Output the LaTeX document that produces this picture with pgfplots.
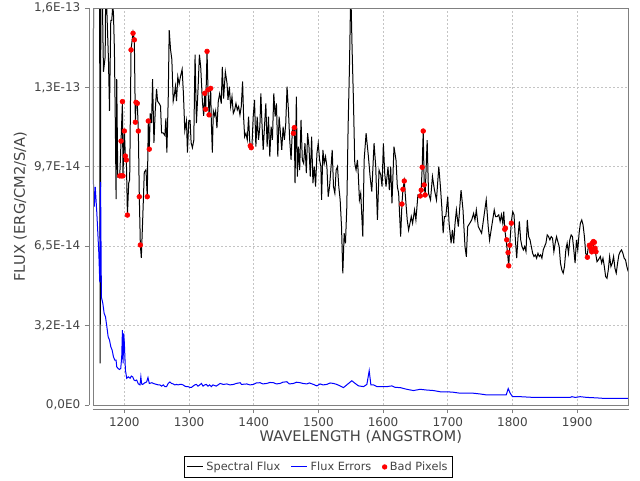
\documentclass[border=0pt]{standalone}
\usepackage{fontspec}
\setmainfont{DejaVu Sans}
\usepackage{pgfplots}
\usepackage{pgfplotstable}
\pgfplotsset{compat=1.18}
\definecolor{axgray}{HTML}{808080}
\definecolor{txtgray}{HTML}{444444}
\definecolor{gridgray}{HTML}{C4C4C4}
\definecolor{errblue}{HTML}{0000FF}
\definecolor{badred}{HTML}{FF0000}

% flux in units of 1e-14 erg/cm2/s/A
\pgfplotstableread{
wl f
1151.6 9.2
1153.0 22
1161.5 22
1162.6 1.7
1164.0 22
1166.7 15.2
1167.7 13.6
1170.3 14.2
1171.3 17.5
1172.9 16.1
1175.4 14.1
1177.0 12.0
1179.0 15.7
1180.5 15.7
1182.0 16.3
1183.1 16.0
1184.6 14.5
1186.2 11.1
1187.2 8.4
1188.2 13.3
1189.8 9.3
1192.9 9.35
1194.9 10.8
1197.0 12.4
1197.8 9.35
1200.0 11.2
1201.6 10.1
1203.1 10.0
1204.7 7.75
1206.7 9.05
1208.2 9.2
1210.3 14.5
1213.4 15.2
1215.4 14.9
1217.0 11.5
1218.0 12.35
1220.0 12.3
1221.6 11.2
1223.1 8.5
1224.7 6.53
1226.2 6.0
1228.3 7.55
1230.8 9.5
1233.4 9.6
1235.4 8.5
1237.0 11.6
1238.5 10.4
1240.0 11.9
1242.0 11.5
1243.6 13.3
1245.7 10.7
1247.7 12.0
1249.8 12.9
1251.3 12.4
1253.9 12.3
1255.9 12.2
1257.5 11.1
1260.0 11.1
1262.6 11.0
1264.2 11.7
1265.7 10.3
1267.8 12.5
1269.3 15.3
1271.4 14.5
1273.4 14.1
1275.5 12.4
1277.5 12.7
1279.0 13.0
1280.6 12.4
1282.6 13.4
1284.7 13.1
1286.7 13.4
1289.3 13.7
1291.3 12.7
1293.4 11.2
1296.0 11.6
1297.5 10.3
1299.6 11.6
1301.6 11.6
1303.2 10.7
1305.2 10.5
1307.3 10.8
1309.3 14.3
1311.4 11.5
1313.9 12.9
1316.0 14.3
1318.0 13.8
1320.6 12.4
1322.6 11.8
1324.2 12.72
1325.7 12.07
1327.8 14.43
1329.3 12.86
1330.9 11.84
1333.4 12.92
1334.4 11.6
1336.0 10.3
1337.5 12.0
1339.6 11.8
1341.1 12.0
1343.1 11.3
1345.2 12.4
1347.3 12.7
1349.8 12.3
1351.4 13.8
1353.4 12.5
1356.1 13.60
1358.7 13.13
1360.2 12.45
1362.3 12.99
1364.3 12.18
1366.4 12.58
1368.4 11.90
1370.5 12.04
1372.5 12.31
1374.6 12.04
1376.6 12.18
1378.7 11.84
1380.7 12.18
1382.8 13.20
1384.3 11.77
1385.9 10.95
1387.9 11.09
1390.0 10.82
1392.0 11.77
1394.1 10.61
1395.6 10.54
1397.1 10.48
1399.2 11.77
1401.2 12.45
1403.3 10.54
1405.3 11.77
1407.4 10.82
1409.5 11.36
1411.0 12.72
1412.5 11.63
1414.6 10.41
1416.6 11.36
1418.7 12.31
1420.7 10.54
1422.8 11.77
1424.8 10.14
1426.9 11.36
1428.9 10.82
1431.0 12.72
1433.1 11.77
1435.1 12.31
1437.2 10.14
1439.2 11.77
1441.3 11.09
1443.3 10.41
1445.4 11.36
1447.4 10.82
1449.5 11.50
1451.5 12.99
1453.6 12.04
1455.6 10.82
1457.7 10.0
1459.7 11.22
1461.3 11.09
1462.8 11.32
1463.8 9.05
1465.9 12.58
1467.4 9.32
1469.0 10.54
1471.0 9.59
1473.1 11.63
1475.1 10.0
1477.2 9.86
1479.2 10.68
1481.3 9.46
1483.3 11.09
1485.4 10.54
1487.4 9.32
1489.5 10.95
1491.5 9.05
1493.6 9.73
1495.6 8.91
1497.7 10.27
1499.7 10.68
1501.8 10.0
1503.8 9.73
1504.9 8.37
1506.9 10.41
1509.0 9.86
1511.0 10.14
1513.1 9.73
1515.1 8.50
1517.2 8.91
1519.2 9.59
1521.3 10.41
1523.3 8.91
1525.4 8.64
1527.4 9.59
1529.5 9.73
1531.5 8.91
1533.6 8.37
1535.7 7.28
1537.7 5.37
1539.8 7.01
1541.8 6.60
1543.9 8.10
1545.9 11.36
1548.0 13.81
1550.0 17.0
1552.1 14.49
1554.1 12.45
1556.2 9.86
1558.2 9.59
1560.3 10.0
1561.3 9.59
1563.4 8.37
1565.4 8.64
1568.6 6.87
1570.7 10.0
1573.7 11.09
1577.3 10.13
1579.9 9.32
1582.5 8.71
1586.0 10.68
1588.6 9.73
1591.2 7.55
1593.7 9.59
1596.3 9.39
1598.4 8.91
1600.4 10.68
1602.5 9.45
1604.5 8.91
1607.6 9.73
1609.6 8.77
1611.7 9.73
1613.7 8.23
1616.8 10.54
1619.9 10.0
1622.0 8.91
1624.0 8.64
1627.1 6.87
1629.1 8.20
1630.7 8.80
1632.7 9.14
1635.3 8.23
1637.3 7.55
1639.4 7.14
1641.5 7.41
1643.5 7.69
1645.6 7.41
1648.6 7.96
1650.7 7.55
1653.8 8.57
1657.4 8.53
1658.9 8.77
1660.4 9.70
1662.0 11.18
1663.5 8.98
1665.0 8.57
1668.1 10.81
1670.2 8.64
1673.3 8.37
1676.3 9.32
1679.4 8.77
1682.5 8.37
1686.1 9.73
1688.6 8.91
1690.7 8.09
1692.8 7.01
1694.8 7.69
1696.9 7.69
1699.9 8.50
1702.0 7.41
1705.1 6.60
1707.1 7.14
1709.2 6.60
1711.2 7.41
1713.3 7.96
1716.3 7.28
1720.5 8.77
1723.5 7.96
1726.6 6.46
1728.7 6.05
1730.7 7.28
1733.8 7.41
1736.9 7.55
1739.9 7.82
1742.0 7.55
1744.1 7.96
1747.1 7.28
1752.3 7.01
1759.4 8.37
1762.5 7.28
1764.6 6.73
1771.8 7.96
1773.8 7.69
1776.3 7.69
1778.8 7.76
1780.9 7.49
1782.9 7.76
1785.0 7.42
1786.5 7.89
1788.1 7.17
1790.1 6.74
1792.2 6.26
1794.2 5.65
1796.3 6.74
1798.3 7.49
1800.4 7.89
1802.4 7.76
1804.5 6.74
1806.5 5.99
1808.6 6.87
1810.6 7.49
1812.7 6.74
1814.7 6.47
1816.8 6.33
1818.8 6.47
1820.9 6.26
1822.9 7.55
1825.0 6.87
1827.1 6.74
1829.1 6.47
1831.2 6.19
1833.2 6.06
1835.3 6.13
1837.3 5.99
1839.4 6.19
1841.4 6.06
1843.5 6.13
1845.5 5.99
1847.6 6.33
1849.6 6.47
1851.7 6.60
1853.7 6.94
1855.8 6.87
1857.8 6.74
1859.9 6.87
1861.9 6.81
1864.0 6.26
1866.0 6.60
1868.1 6.87
1870.1 6.67
1872.2 6.47
1874.2 5.79
1876.3 5.51
1878.4 5.38
1880.4 5.65
1882.5 6.33
1884.5 6.60
1886.6 6.19
1888.6 6.74
1890.7 6.94
1892.7 6.87
1894.8 6.33
1896.8 5.79
1898.9 6.74
1900.9 6.33
1903.0 7.01
1905.0 7.42
1907.1 7.55
1909.1 7.35
1911.2 6.87
1913.2 6.19
1915.3 6.06
1917.3 6.47
1919.8 6.45
1922.5 6.67
1925.5 6.47
1927.6 6.33
1930.7 5.85
1932.7 5.92
1935.8 6.06
1937.9 5.79
1939.9 5.99
1942.0 5.65
1944.0 5.24
1946.1 5.17
1948.1 5.51
1950.2 6.06
1952.2 5.65
1954.3 5.79
1956.3 6.06
1958.4 5.58
1960.4 5.38
1962.5 5.79
1964.5 6.13
1966.6 6.26
1968.6 6.33
1970.7 6.19
1972.7 5.99
1974.8 5.92
1976.8 5.65
1978.9 5.45
}\fluxtable

\pgfplotstableread{
wl f
1152.0 9.2
1153.5 8.1
1155.0 8.9
1157.5 7.8
1160.5 6.2
1162.0 5.0
1163.2 9.1
1164.5 4.4
1166.7 4.15
1168.7 3.74
1170.8 3.60
1172.9 3.20
1174.9 2.79
1177.0 2.65
1179.0 2.38
1181.1 2.24
1183.1 1.97
1185.2 1.83
1187.2 1.83
1188.2 1.56
1190.3 1.49
1192.3 1.45
1194.4 1.49
1195.9 1.97
1197.0 3.06
1198.0 1.70
1199.0 2.92
1200.0 2.52
1201.6 1.43
1203.6 1.09
1206.2 1.15
1208.8 1.09
1210.8 1.18
1212.9 1.15
1214.9 1.02
1217.0 0.99
1219.0 1.02
1221.6 0.86
1224.2 0.82
1225.5 1.15
1226.7 0.86
1228.3 0.84
1231.8 0.91
1234.4 0.94
1236.5 1.12
1238.5 0.88
1242.6 0.91
1244.7 0.88
1247.2 0.86
1249.8 0.84
1252.4 0.82
1254.9 0.82
1257.5 0.77
1260.1 0.82
1262.6 0.75
1265.2 0.75
1267.8 0.88
1270.3 0.94
1272.9 0.88
1275.5 0.86
1278.0 0.82
1280.6 0.84
1283.1 0.82
1285.7 0.84
1288.3 0.84
1290.8 0.82
1293.4 0.77
1296.0 0.75
1298.5 0.75
1301.1 0.72
1303.7 0.72
1306.2 0.77
1308.8 0.82
1311.4 0.84
1313.9 0.77
1316.5 0.82
1319.1 0.88
1321.6 0.77
1324.2 0.82
1326.8 0.84
1329.3 0.77
1331.9 0.82
1334.4 0.75
1337.0 0.82
1342.1 0.77
1348.0 0.88
1353.0 0.84
1358.5 0.86
1363.0 0.82
1368.7 0.84
1373.0 0.88
1379.0 0.91
1381.0 0.84
1389.3 0.86
1394.0 0.82
1399.6 0.84
1404.0 0.90
1409.9 0.91
1414.0 0.86
1420.2 0.88
1425.0 0.92
1430.5 0.91
1435.0 0.86
1440.8 0.88
1445.0 0.93
1451.1 0.95
1455.0 0.86
1461.5 0.88
1466.0 0.93
1471.7 0.91
1476.0 0.88
1482.0 0.86
1486.0 0.90
1492.3 0.84
1497.5 0.78
1502.6 0.86
1507.0 0.82
1513.0 0.84
1518.0 0.90
1523.2 0.88
1528.4 0.84
1533.5 0.78
1538.7 0.71
1543.8 0.82
1551.6 0.99
1556.8 0.88
1562.0 0.78
1569.8 0.75
1574.9 0.84
1578.5 1.40
1581.1 0.82
1585.2 0.82
1590.4 0.75
1600.7 0.75
1605.8 0.75
1613.5 0.78
1618.6 0.72
1626.4 0.71
1636.7 0.64
1646.9 0.59
1657.3 0.64
1667.7 0.61
1678.0 0.59
1688.3 0.54
1698.6 0.54
1708.9 0.52
1719.2 0.48
1739.8 0.48
1750.0 0.45
1760.4 0.41
1790.3 0.41
1793.4 0.67
1796.5 0.48
1800.0 0.34
1812.0 0.34
1832.6 0.31
1863.6 0.31
1889.3 0.31
1891.8 0.34
1897.0 0.31
1904.7 0.34
1915.0 0.31
1930.5 0.29
1941.0 0.27
1978.9 0.27
}\errtable

\pgfplotstableread{
wl f
1192.9 9.35
1195.5 9.35
1197.8 9.35
1197.0 12.38
1194.9 10.77
1200.0 11.18
1201.6 10.16
1203.1 10.0
1204.7 7.75
1210.3 14.49
1213.4 15.17
1215.4 14.9
1218.0 12.35
1220.0 12.31
1217.0 11.54
1221.6 11.18
1223.1 8.5
1224.7 6.53
1235.4 8.5
1237.0 11.59
1238.5 10.44
1324.2 12.72
1325.7 12.07
1327.8 14.43
1329.3 12.86
1330.9 11.84
1333.4 12.92
1394.6 10.58
1396.1 10.5
1461.3 11.09
1462.8 11.32
1629.1 8.20
1630.7 8.80
1632.7 9.14
1657.4 8.53
1658.9 8.77
1660.4 9.70
1662.0 11.18
1663.5 8.98
1665.0 8.57
1788.1 7.17
1789.1 7.22
1791.1 6.74
1793.2 6.22
1794.2 5.68
1795.8 6.52
1798.3 7.42
1915.8 6.03
1918.9 6.52
1920.4 6.44
1922.0 6.33
1923.5 6.60
1925.0 6.67
1926.6 6.64
1927.6 6.40
1929.1 6.26
1922.5 6.25
}\badtable

\begin{document}
\begin{tikzpicture}
\path[use as bounding box] (-69.75pt,-56.25pt) rectangle (410.25pt,303.75pt);
\begin{axis}[
  at={(0pt,0pt)}, anchor=south west,
  scale only axis,
  width=401.7pt, height=297.75pt,
  xmin=1151.5, xmax=1979.5,
  ymin=0, ymax=16.2,
  axis lines*=left,
  axis x line shift=3pt,
  axis y line shift=3pt,
  axis line style={axgray, line width=0.6pt},
  tick align=outside,
  major tick length=3pt,
  tick style={axgray, line width=0.6pt},
  xtick={1200,1300,1400,1500,1600,1700,1800,1900},
  xticklabels={1200,1300,1400,1500,1600,1700,1800,1900},
  ytick={0,3.24,6.48,9.72,12.96,16.2},
  yticklabels={{0,0E0},{3,2E-14},{6,5E-14},{9,7E-14},{1,3E-13},{1,6E-13}},
  scaled ticks=false,
  ticklabel style={font=\fontsize{9}{10}\selectfont, text=txtgray},
  xmajorgrids, ymajorgrids,
  major grid style={gridgray, dash pattern=on 1.5pt off 1.5pt, line width=0.5pt},
  xlabel={WAVELENGTH (ANGSTROM)},
  ylabel={FLUX (ERG/CM2/S/A)},
  xlabel style={at={(axis description cs:0.5,-0.081)}, anchor=center,
    font=\fontsize{11}{13}\selectfont, text=txtgray},
  ylabel style={at={(axis description cs:-0.136,0.5)}, anchor=center,
    font=\fontsize{11}{13}\selectfont, text=txtgray},
  legend columns=3,
  legend style={at={(0.421,-0.156)}, anchor=center, draw=black,
    line width=0.75pt, font=\fontsize{8.5}{10}\selectfont, text=txtgray,
    inner xsep=2pt, inner ysep=2pt,
    /tikz/every even column/.append style={column sep=6pt}},
]
\addplot[black, line width=0.75pt,
  legend image code/.code={\draw[black, line width=0.75pt] (0pt,0pt) -- (12pt,0pt);}]
  table[x=wl, y=f] {\fluxtable};
\addlegendentry{Spectral Flux}
\addplot[errblue, line width=0.75pt,
  legend image code/.code={\draw[errblue, line width=0.75pt] (0pt,0pt) -- (12pt,0pt);}]
  table[x=wl, y=f] {\errtable};
\addlegendentry{Flux Errors}
\addplot[only marks, mark=*, mark size=1.8pt, badred, mark options={draw=badred, fill=badred},
  legend image code/.code={\fill[badred] (6pt,0pt) circle (1.6pt);}]
  table[x=wl, y=f] {\badtable};
\addlegendentry{Bad Pixels}
\end{axis}
\draw[axgray, line width=0.6pt] (0pt,0pt) rectangle (401.7pt,297.75pt);
\end{tikzpicture}
\end{document}
